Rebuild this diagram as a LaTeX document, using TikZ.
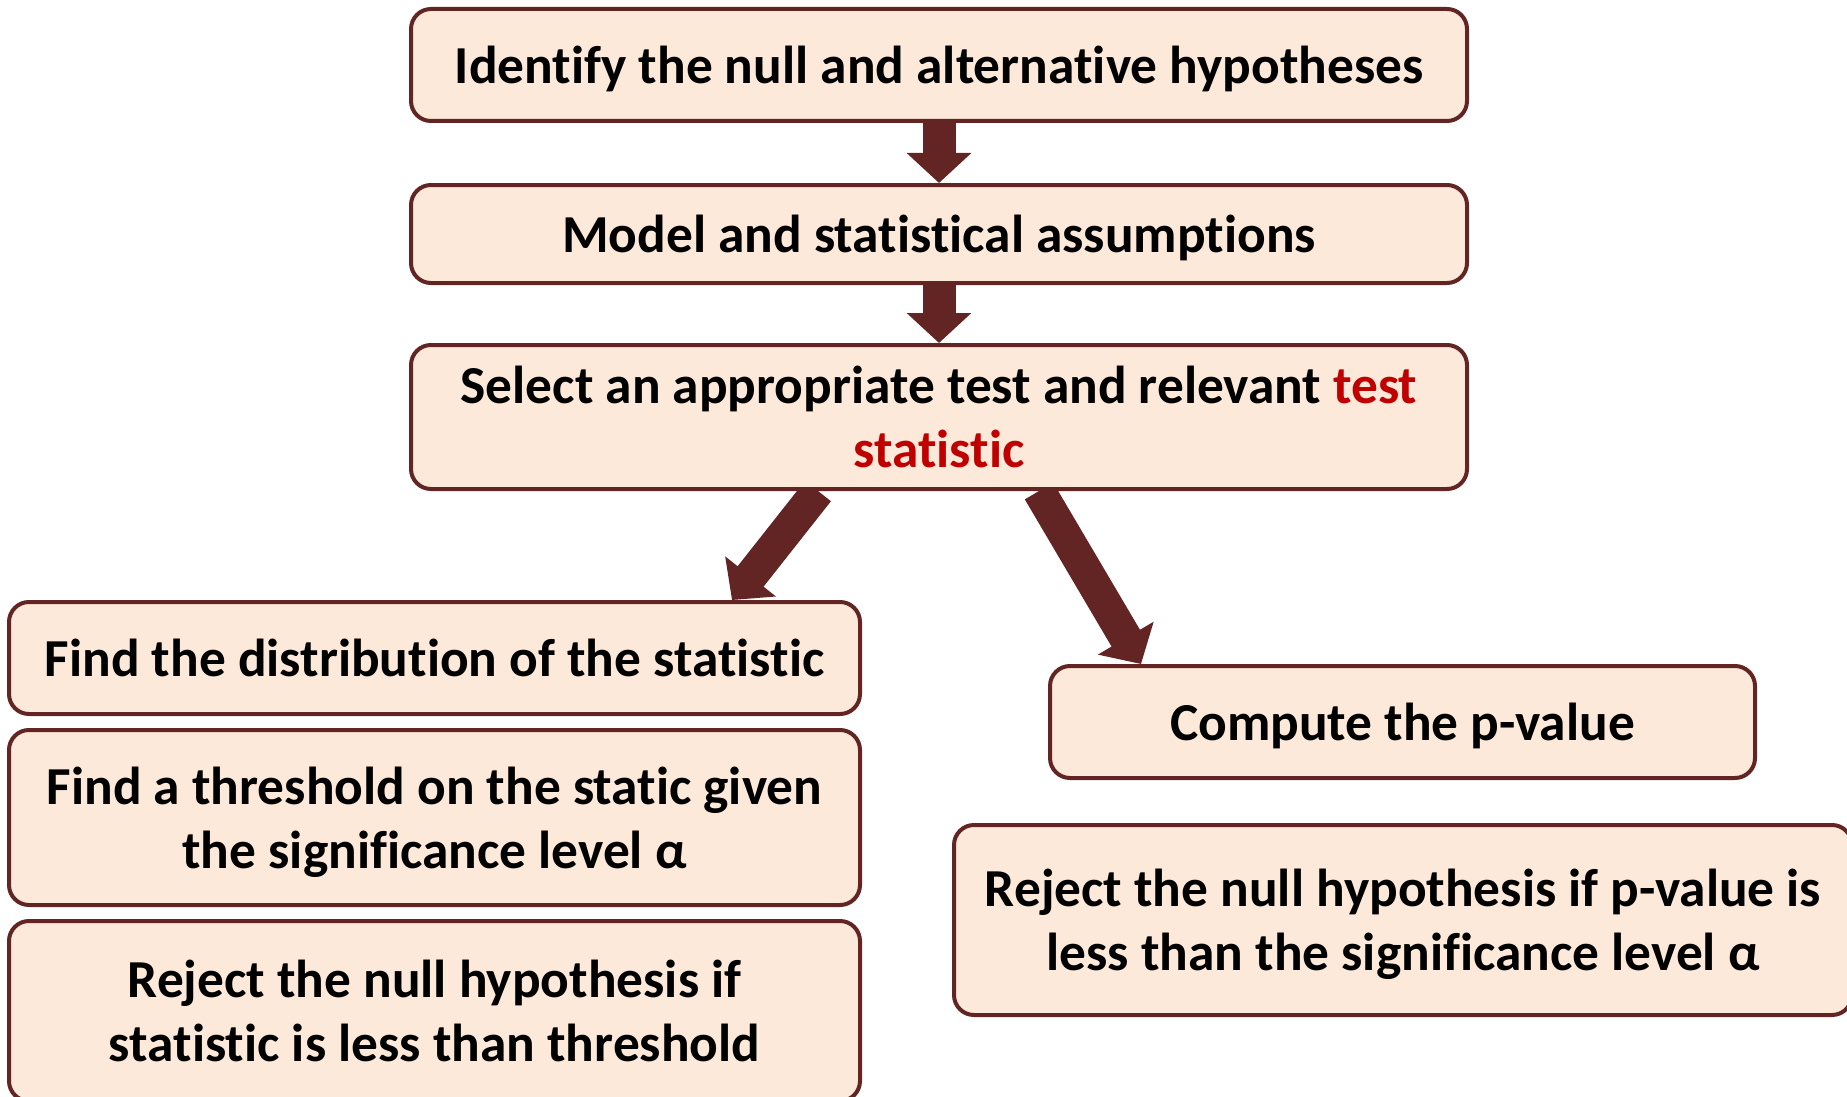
\documentclass[tikz,border=0pt]{standalone}
\usepackage{fontspec}
\setmainfont[Ligatures=NoCommon]{Carlito}
\usetikzlibrary{arrows.meta,backgrounds,calc}
\definecolor{boxfill}{RGB}{253,233,217}
\definecolor{boxline}{RGB}{99,37,35}
\definecolor{arrowcol}{RGB}{99,37,35}
\definecolor{hl}{RGB}{192,0,0}
\begin{document}
\begin{tikzpicture}[x=0.5pt,y=-0.5pt,
 box/.style={draw=boxline, fill=boxfill, line width=2pt, rounded corners=10pt, align=center,
   font=\bfseries\fontsize{26.7}{32}\selectfont, inner sep=0pt, text=black, text depth=0pt},
 bigarrow/.style={draw=arrowcol, line width=16.5pt, -{Triangle[width=31.5pt,length=15pt]}}]
\useasboundingbox (0,0) rectangle (1847,1097);
\node[box, minimum width=528pt, minimum height=56pt] (b1) at (939,65) {Identify the null and alternative hypotheses};
\node[box, minimum width=528pt, minimum height=49pt] (b2) at (939,234) {Model and statistical assumptions};
\node[box, minimum width=528pt, minimum height=72pt] (b3) at (939,417) {Select an appropriate test and relevant \textcolor{hl}{test}\\\textcolor{hl}{statistic}};
\node[box, minimum width=425.5pt, minimum height=56pt] (L1) at (434.5,658) {Find the distribution of the statistic};
\node[box, minimum width=425.5pt, minimum height=87.5pt] (L2) at (434.5,817.5) {Find a threshold on the static given\\the significance level α};
\node[box, minimum width=425.5pt, minimum height=90pt] (L3) at (434.5,1011) {Reject the null hypothesis if\\statistic is less than threshold};
\node[box, minimum width=352.5pt, minimum height=56pt] (C) at (1402.5,722) {Compute the p-value};
\node[box, minimum width=449pt, minimum height=95pt] (R) at (1403,920) {Reject the null hypothesis if p-value is\\less than the significance level α};
\begin{pgfonlayer}{background}
\draw[bigarrow] (b1.south) -- (b2.north);
\draw[bigarrow] (b2.south) -- (b3.north);
\draw[bigarrow] ([xshift=-60.5pt]b3.south) -- ([xshift=-65pt]L1.north east);
\draw[bigarrow] ([xshift=50pt]b3.south) -- ([xshift=46.5pt]C.north west);
\end{pgfonlayer}
\end{tikzpicture}
\end{document}
